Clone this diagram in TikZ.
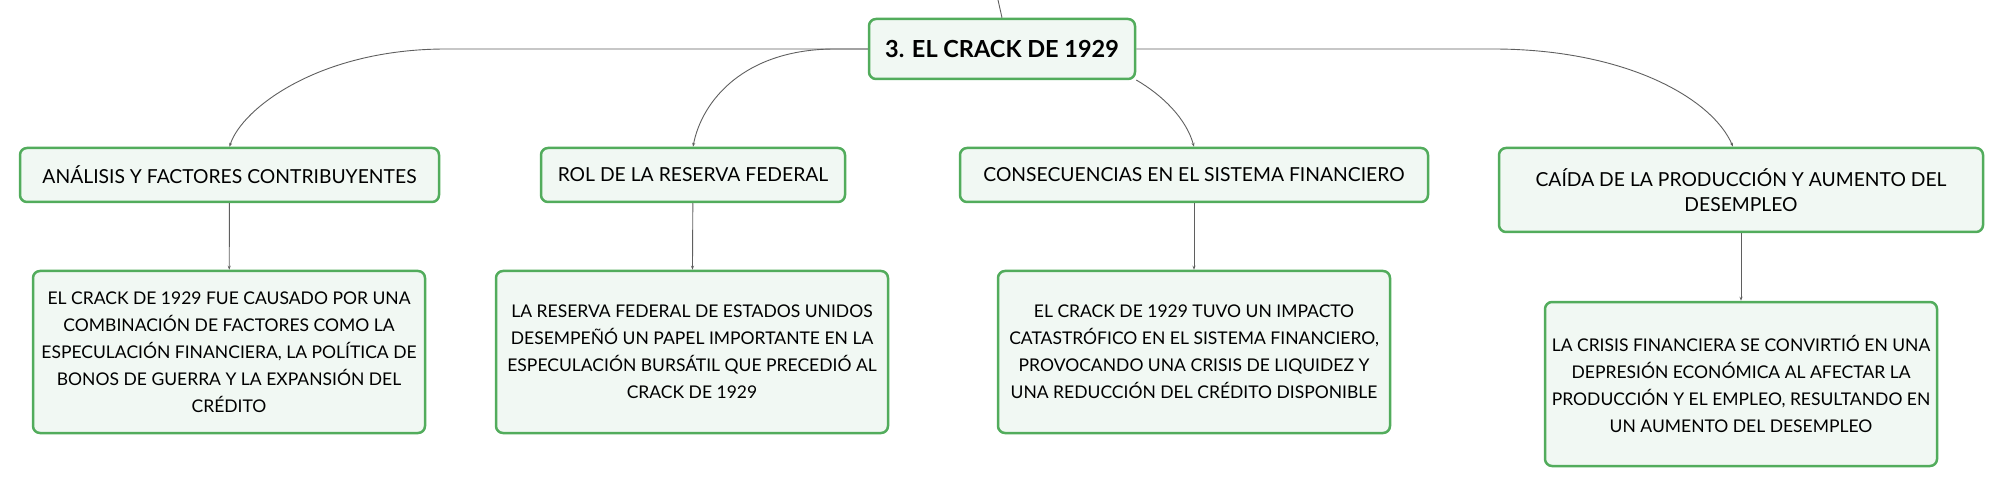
\documentclass[tikz,border=0pt]{standalone}
\usepackage{fontspec}
\setmainfont{Lato}
\usetikzlibrary{arrows.meta}
\definecolor{boxline}{RGB}{82,172,92}
\definecolor{boxfill}{RGB}{241,248,243}
\definecolor{linkgray}{RGB}{95,95,95}

\begin{document}
\begin{tikzpicture}[x=1pt, y=-1pt,
  box/.style={draw=boxline, fill=boxfill, line width=2.5pt, rounded corners=7pt,
    align=center, inner sep=4pt, font=\fontsize{19.3}{24.5}\selectfont},
  topic/.style={box, minimum height=54pt},
  detail/.style={box, minimum width=392pt, minimum height=162pt,
    font=\fontsize{17.5}{27}\selectfont},
  link/.style={draw=linkgray, line width=0.9pt, -{Stealth[length=4pt, width=3pt]}}]
  \useasboundingbox (0,0) rectangle (2004,486);
  % central topic
  \node[box, font=\bfseries\fontsize{23.5}{26}\selectfont, minimum width=266pt,
    minimum height=60pt] (root) at (1002,49) {3. EL CRACK DE 1929};
  % first level
  \node[topic, minimum width=419pt] (analisis) at (229.5,175)
    {ANÁLISIS Y FACTORES CONTRIBUYENTES};
  \node[topic, minimum width=304pt] (rol) at (693,175)
    {ROL DE LA RESERVA FEDERAL};
  \node[topic, minimum width=468pt] (consec) at (1194,175)
    {CONSECUENCIAS EN EL SISTEMA FINANCIERO};
  \node[topic, minimum width=484pt, minimum height=84pt] (caida) at (1741,190)
    {CAÍDA DE LA PRODUCCIÓN Y AUMENTO DEL\\DESEMPLEO};
  % second level
  \node[detail] (analisisT) at (229,352)
    {EL CRACK DE 1929 FUE CAUSADO POR UNA\\COMBINACIÓN DE FACTORES COMO LA\\ESPECULACIÓN FINANCIERA, LA POLÍTICA DE\\BONOS DE GUERRA Y LA EXPANSIÓN DEL\\CRÉDITO};
  \node[detail] (rolT) at (692,352)
    {LA RESERVA FEDERAL DE ESTADOS UNIDOS\\DESEMPEÑÓ UN PAPEL IMPORTANTE EN LA\\ESPECULACIÓN BURSÁTIL QUE PRECEDIÓ AL\\CRACK DE 1929};
  \node[detail] (consecT) at (1194,352)
    {EL CRACK DE 1929 TUVO UN IMPACTO\\CATASTRÓFICO EN EL SISTEMA FINANCIERO,\\PROVOCANDO UNA CRISIS DE LIQUIDEZ Y\\UNA REDUCCIÓN DEL CRÉDITO DISPONIBLE};
  \node[detail, minimum height=164pt] (caidaT) at (1741,384)
    {LA CRISIS FINANCIERA SE CONVIRTIÓ EN UNA\\DEPRESIÓN ECONÓMICA AL AFECTAR LA\\PRODUCCIÓN Y EL EMPLEO, RESULTANDO EN\\UN AUMENTO DEL DESEMPLEO};
  % links
  \coordinate (up) at (998,0);
  \draw[draw=linkgray, line width=0.9pt] (up) -- (root.north);
  \draw[link] (root.west) -- (446,49)
    .. controls (320,49) and (242,108) .. (analisis.north);
  \draw[link] (root.west) -- (835,49)
    .. controls (745,49) and (702,100) .. (rol.north);
  \draw[link] (root.-13.4)
    .. controls (1162,95) and (1186,118) .. (consec.north);
  \draw[link] (root.east) -- (1493,49)
    .. controls (1625,49) and (1712,98) .. ([xshift=-8pt]caida.north);
  \draw[link] (analisis) -- (analisisT);
  \draw[link] (rol) -- (rolT);
  \draw[link] (consec) -- (consecT);
  \draw[link] (caida) -- (caidaT);
\end{tikzpicture}
\end{document}
